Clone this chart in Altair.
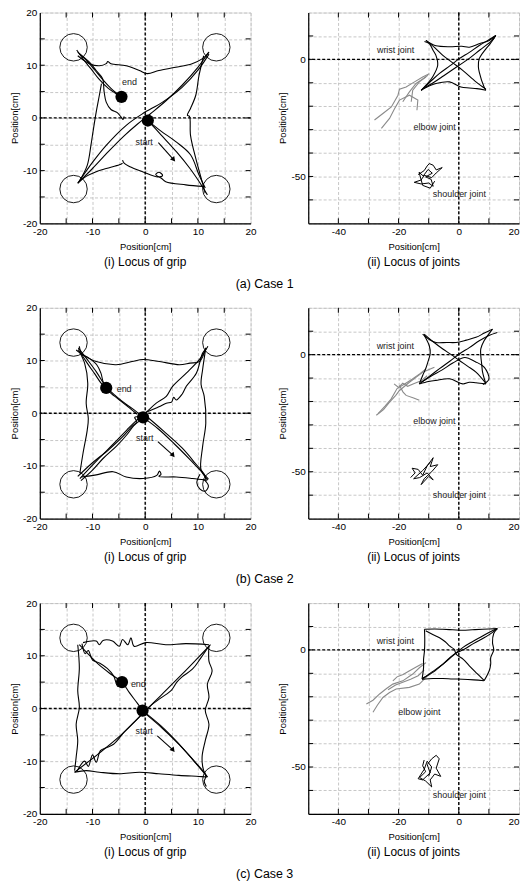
import altair as alt
import pandas as pd

# ---------------- axis / tick values ----------------
GRIP_TICKS = [-20, -15, -10, -5, 0, 5, 10, 15, 20]
GRIP_INNER = [-15, -10, -5, 0, 5, 10, 15]
JX_TICKS = [-50, -40, -30, -20, -10, 0, 10, 20]
JX_INNER = [-40, -30, -20, -10, 0, 10]
JY_TICKS = [20, 10, 0, -10, -20, -30, -40, -50, -60, -70]
JY_INNER = [10, 0, -10, -20, -30, -40, -50, -60]
ZERO = [0]

# ---------------- target circles ----------------
TARGET_X = [-13.6, 13.5, -13.6, 13.5]
TARGET_Y = [13.4, 13.4, -13.5, -13.5]

CASE_TITLES = ["(a) Case 1", "(b) Case 2", "(c) Case 3"]

# ---------------- grip trajectories (x, y) ----------------
GRIP1 = [
    [(0.5, -0.5), (3, -3.2), (6, -6.5), (8.5, -9.6), (10.5, -12.5), (11.8, -14.6)],
    [(11.4, -13.3), (10.2, -10.8), (8.6, -7), (5.8, -4.5), (3, -2.5), (0.5, -0.5)],
    [(11.1, 11.8), (10.2, 8), (9.6, 4.3), (8.6, 1.8), (8, 0.5), (8.4, 0.3), (8.6, -3.3),
     (9.6, -7.7), (10.8, -12.1), (11.4, -14.3)],
    [(11.1, -13), (7.7, -12.7), (3.9, -12.1), (3.0, -11.4), (2.0, -10.8), (2.6, -10.3),
     (3.3, -10.9), (2.4, -11.2), (-0.5, -10.2), (-3, -9.2), (-4, -8.6), (-4.3, -8)],
    [(-4.3, -8.6), (-4.9, -8.9), (-7.4, -9.6), (-9.3, -10.2), (-11.2, -11.1), (-12.5, -12.1)],
    [(-12.5, 12.2), (-10.5, 10.5), (-9.3, 9), (-8.1, 7.5), (-7.8, 5), (-7.4, 3), (-6.5, 1.6),
     (-5.3, 1.0), (-4.6, 0.2), (-4.2, -0.3), (-4.0, 0.3)],
    [(-12.6, -12.2), (-11, -9), (-10.3, -5.2), (-9.9, -2.6), (-9.3, 1.1), (-8.7, 4.3), (-8.3, 6.5)],
    [(-12.8, 11.8), (-10.6, 10.3), (-8.7, 9.9), (-7.4, 10.3), (-7.1, 10.7), (-6.5, 10.3),
     (-3.6, 9.9), (-1.1, 9), (0.4, 8.4), (2.6, 9), (5.8, 9.6), (8.9, 10.3), (10.8, 11.2), (12.1, 12.5)],
    [(-12.8, -12.4), (-10, -9.6), (-7, -6.4), (-4, -3.4), (-1.5, -1.2), (1, 0.8), (4, 3.3),
     (7, 6.2), (10, 9.6), (12.1, 12.5)],
    [(-12.8, -12.4), (-9.9, -8.3), (-7.4, -5.2), (-3.6, -1.4), (-0.5, 0.8), (3.3, 3), (7, 5.8),
     (10.2, 9.3), (12.1, 12.1)],
    [(-12.8, 12.5), (-11, 10.8), (-9.5, 9), (-8, 7.2), (-6.5, 5.6), (-4.8, 4.2)],
    [(-13, 12.9), (-11.8, 11.2), (-10.2, 9.2), (-8.8, 7.4), (-7, 5.6), (-5.5, 4.6), (-4.5, 4.1)],
]

GRIP2 = [
    [(-12.7, 12.4), (-11, 10.2), (-9.3, 7.9), (-7.4, 5.0), (-5.5, 3.2), (-3.5, 1.6), (-1.8, 0.4), (-0.4, -0.8)],
    [(-13.1, 12.0), (-12, 11.2), (-10.6, 10.4), (-9.2, 9.2), (-8.4, 7.6), (-8.0, 6.0), (-7.6, 5.2)],
    [(-12.5, 12.7), (-12.2, 11.5), (-11, 9.5), (-9.6, 7.5), (-8.3, 5.6), (-7.0, 4.2), (-5.0, 2.6),
     (-3, 1.0), (-1.5, -0.2)],
    [(-0.4, -0.8), (2.5, -3.0), (5.5, -5.8), (8.5, -8.8), (10.6, -11.0), (12.0, -12.5)],
    [(-0.1, -0.3), (3.5, -3.4), (7.0, -6.6), (9.5, -9.5), (11.2, -11.6), (11.6, -12.9)],
    [(10.4, -11.6), (9.8, -13.2), (10.4, -14.4), (11.4, -14.8), (12.0, -13.8), (11.2, -12.6)],
    [(-12.4, -12.4), (-9.0, -8.8), (-6, -5.8), (-3.5, -3.2), (-1.8, -1.5), (0, 0), (2.1, 1.9),
     (4, 3.2), (5.2, 5.1), (7.8, 7.6), (10.3, 10.2), (11.9, 12.7)],
    [(-12.8, -12.0), (-10, -9.4), (-7, -7), (-4.4, -4.6), (-2.6, -2.6), (-1.6, -1.6), (-2.0, -0.8),
     (-1.2, -0.6), (0.5, 0.3), (2.6, 1.2), (4, 1.9), (5.0, 2.1), (5.4, 3.0), (5.9, 2.5), (7.0, 3.6),
     (7.8, 5.1), (9.7, 7.6), (10.9, 11.4), (11.6, 12.3)],
    [(-12.2, -12.8), (-10, -10.8), (-8, -8.6), (-5.4, -6.2), (-3.4, -4.0), (-2.2, -2.4), (-1.0, -1.4)],
    [(-12.4, 11.4), (-9.3, 9.8), (-5.5, 9.2), (-2.5, 9.8), (-0.4, 10.2), (2.7, 9.8), (6.5, 9.2),
     (8.5, 9.5), (10.3, 9.8), (11.5, 12.4)],
    [(-12.7, 12.1), (-11.5, 9.5), (-10.9, 5.7), (-11.2, 1.9), (-10.8, -1.0), (-11.0, -3.2),
     (-11.8, -7.6), (-12.4, -11.4)],
    [(11.5, 12.4), (10.9, 8.3), (10.6, 5.5), (11.2, 3.2), (11.5, -1.9), (10.9, -6.3), (10.6, -10.8), (11.9, -12.7)],
    [(-12.1, -12.1), (-9.3, -11.7), (-6.1, -11.1), (-3.6, -12.1), (-0.4, -12.4), (2.2, -11.8),
     (2.7, -11.0), (3.0, -11.6), (2.6, -12.0), (5.9, -12.1), (9, -12.4), (11.5, -12.7)],
]

GRIP3 = [
    [(-11.8, 12.5), (-9.3, 12.8), (-8.7, 12.1), (-8.0, 12.9), (-6.2, 12.8), (-4.9, 11.8), (-4.3, 13.1),
     (-3.3, 12.1), (-2.7, 13.4), (-2.1, 11.8), (0.1, 12.5), (3.9, 12.1), (7.7, 12.3), (12.1, 12.1)],
    [(-12.8, 12.1), (-12.5, 7.7), (-12.8, 3.3), (-12.5, 0.2), (-13.1, -3), (-12.8, -6.1), (-13.1, -9.2), (-13.4, -11.8)],
    [(-13.4, -12.1), (-11.2, -11.8), (-8.7, -12.1), (-4.9, -12.4), (-1.1, -12.1), (2.6, -12.4),
     (6.4, -12.7), (10.2, -12.9), (11.8, -13.0)],
    [(12.1, 11.8), (12.1, 9), (12.7, 7.1), (11.8, 4.6), (12.1, 2.1), (11.4, -0.4), (12.1, -3),
     (11.4, -6.1), (10.8, -9.2), (11.1, -11.8), (11.8, -13)],
    [(-12.5, 12.1), (-9, 8.5), (-6.5, 6.5), (-4.4, 5.0), (-3, 3), (-1.5, 1), (-0.5, -0.4)],
    [(-12.0, 12.3), (-11.4, 10.4), (-10.8, 11.0), (-10.0, 9.2), (-8.6, 8.6), (-7.2, 7.6), (-6.0, 6.2),
     (-5.2, 4.2), (-4.6, 4.6)],
    [(-0.5, -0.4), (3, -3.3), (6, -6.3), (9, -9.7), (11.8, -13)],
    [(-0.2, -0.8), (3.3, -3.8), (6.5, -6.9), (9.5, -10.2), (11.5, -12.8), (11.2, -13.8), (11.6, -14.8)],
    [(-13.4, -12.1), (-9, -8.7), (-5, -5.4), (-1, -1.5), (3, 2.5), (7, 6.5), (10, 9.6), (12.4, 12.1)],
    [(-13.0, -12.0), (-11.5, -10.0), (-10.8, -11.0), (-10.0, -8.8), (-9.3, -10.2), (-8.5, -8.0),
     (-7.5, -7.5), (-6.0, -6.8), (-4.0, -4.5), (-2.0, -2.5), (1, 0.5), (3, 2), (5, 3.5), (6, 5.0),
     (7, 6), (9, 7.5), (10.5, 9.5), (12.2, 12.0)],
]

# start / end dots, label positions, arrows  (per case)
START_PTS = [(0.5, -0.5), (-0.4, -0.8), (-0.5, -0.4)]
END_PTS = [(-4.5, 4.0), (-7.4, 4.8), (-4.4, 5.0)]
END_LABELS = [(-3.0, 6.8), (-4.0, 4.6), (-1.3, 4.7)]
START_LABELS = [(-0.2, -4.5), (-0.1, -4.8), (-0.2, -4.2)]
ARROWS = [[(2.5, -4.7), (5.3, -7.8)], [(2.4, -5.4), (5.2, -7.9)], [(2.3, -5.2), (5.2, -7.8)]]

# ---------------- joint trajectories ----------------
WRIST1 = [
    [(-10.9, 8.1), (-9.6, 7.0), (-7.6, 5.8), (-3.1, 5.4), (1.0, 5.6), (3.5, 5.2), (7.0, 6.8), (10.1, 8.1), (12.3, 10.2)],
    [(-11.4, 7.6), (-9.8, 6.7), (-8.6, 4.0), (-7.6, 1.7), (-7.0, -2.5), (-8.7, -7.5), (-10.5, -10.5), (-12.5, -13.2)],
    [(-12.5, -13.2), (-9.5, -11.2), (-7.6, -10.3), (-3.1, -9.6), (0.7, -11.8), (3.5, -12.2), (6, -12.5), (9, -13.2)],
    [(12.3, 10.2), (10.5, 6.8), (9, 4.5), (6.8, 0.3), (6.5, -3), (6.8, -5.4), (8.4, -11.8), (9, -13.2)],
    [(-10.9, 8.1), (-8, 5), (-5.3, 1.7), (-2, -1.5), (1.3, -4.7), (5.7, -9.6), (9, -12.7)],
    [(-12.5, -13.2), (-9.5, -9.6), (-6.5, -6.1), (-3, -2.8), (0.2, 0.3), (3.5, 3), (6.8, 5.9), (9.5, 8), (12.3, 10.2)],
    [(-12.0, -12.6), (-8.5, -10), (-5, -7), (-1, -3.5), (3, 0), (7, 4), (10.5, 7.5), (11.8, 9.2)],
]
ELBOW1 = [
    [(-28, -25.9), (-25.2, -23.1), (-22.4, -20.3), (-20.2, -15.3), (-19.7, -12.7), (-17.5, -11.8),
     (-14.7, -9.6), (-12, -7.5), (-9.8, -6.1)],
    [(-25.7, -29.5), (-23, -25.2), (-21.3, -21), (-19.7, -17.4), (-16.4, -15.3), (-13.6, -17.4), (-13.9, -21.7)],
    [(-18.6, -18.1), (-16.4, -13.9), (-14.2, -10.3), (-10.9, -7.5)],
    [(-15.8, -18.1), (-15.3, -13.2), (-13.1, -9.6), (-10.3, -6.8)],
]
SHOULDER1 = [
    [(-13.5, -49.2), (-11.5, -47.5), (-10.5, -45.5), (-9.8, -44.5), (-8.5, -45.2), (-7.5, -47.2),
     (-5.5, -46.2), (-7.5, -48.5), (-9.0, -50.5), (-11.5, -49.5), (-12.5, -51.5), (-14.8, -52.5),
     (-12.5, -53.2), (-10.0, -52.8), (-8.5, -54.2), (-9.2, -51.2), (-11.0, -50.2), (-8.8, -48.6),
     (-10.2, -47.0), (-11.8, -49.8), (-13.2, -48.2), (-12.0, -53.8), (-9.5, -55.0), (-8.0, -52.0)],
]

WRIST2 = [
    [(-12, 8.8), (-9.8, 6.5), (-7.6, 5.2), (-4, 5.2), (-0.9, 5.2), (2.5, 6.2), (5.7, 7.4), (8.5, 9.2), (11.2, 10.9)],
    [(-11.5, 8.3), (-9.8, 3.8), (-9.5, 0.5), (-10.3, -3.3), (-11, -6), (-12, -8.9), (-13.1, -12.5)],
    [(-13.1, -12.5), (-10, -11.5), (-7.6, -11), (-3.1, -10.3), (1.3, -12.5), (3.5, -11.8), (5.7, -12), (9, -12.5)],
    [(11.2, 10.9), (9.5, 8), (8.4, 5.9), (7.3, 2.5), (7.3, -0.4), (7.6, -4), (7.9, -7.5), (9, -12.5)],
    [(-11.5, 8.8), (-8.5, 5.5), (-5.3, 2.4), (-2.5, 0), (0.2, -2.5), (3, -5), (5.7, -7.5), (9, -12.3)],
    [(-13.1, -12.5), (-10, -9.5), (-6.5, -6.1), (-3, -2.8), (0.2, 0.3), (3.5, 3), (6.8, 5.9), (10, 8.2), (12.8, 9.5)],
    [(-12.5, -11.8), (-9, -9), (-5.5, -6.5), (-2, -3.6), (2, -1.2), (5.5, -3), (8.5, -5.4), (10, -10.5), (8, -12.8)],
]
ELBOW2 = [
    [(-27.4, -25.9), (-25, -23.5), (-23, -20.3), (-21, -17.5), (-19.7, -15.3), (-16.4, -11.8),
     (-14, -9.5), (-12, -7.5), (-8.1, -5.4)],
    [(-26.8, -25.2), (-24.5, -22), (-22.5, -19), (-20.5, -14.5), (-18, -12.5), (-15.5, -10.5), (-13, -8.2), (-10.9, -6.1)],
    [(-19.7, -13.2), (-18.5, -16), (-17.5, -17.4), (-15, -18.5), (-13.1, -19.5)],
    [(-21.5, -12.5), (-20, -14), (-18.6, -12.2), (-17, -13.5), (-15, -12.4), (-12.5, -11.2), (-10.5, -9)],
]
SHOULDER2 = [
    [(-16.0, -52.5), (-14.5, -50.5), (-15.5, -48.5), (-13.5, -49.0), (-12.0, -51.5), (-10.5, -47.5),
     (-8.5, -44.0), (-9.5, -47.8), (-7.0, -47.0), (-9.0, -50.0), (-11.5, -53.0), (-12.5, -55.5),
     (-10.0, -52.0), (-8.5, -53.5), (-10.5, -50.5), (-13.0, -52.5), (-15.0, -53.0), (-12.0, -49.5), (-9.5, -46.0)],
]

WRIST3 = [
    [(-11.4, 8.8), (-8, 8.9), (-5.3, 8.8), (-2, 8.6), (1.3, 8.4), (4.5, 8.6), (7.9, 8.8), (12.8, 9.1)],
    [(-11.4, 8.8), (-11.3, 4.5), (-11.4, -0.4), (-11.7, -4), (-11.7, -7.5), (-12.2, -12.5)],
    [(-12.2, -12.5), (-8.5, -12.2), (-5.3, -12.2), (-2, -12.4), (1.3, -12.5), (5, -12.8), (8.4, -13.2)],
    [(12.8, 9.1), (11.6, 7), (11.2, 3.1), (11.6, 0), (10.6, -3.3), (10.6, -6), (10.1, -8.9), (8.4, -13.2)],
    [(-11, 8.2), (-8.5, 6.5), (-6.4, 5.2), (-4.5, 3.5), (-3.1, 1.7), (-1.5, 0.2), (-0.9, -1.8),
     (1.5, -4), (3.5, -6.8), (6, -10), (8.4, -13.0)],
    [(-12.2, -12.5), (-9, -9.5), (-5.3, -6.1), (-2, -2.5), (1.3, 1), (4.5, 3.5), (7.9, 5.9), (10.5, 7.8), (12.8, 9.1)],
    [(-12.0, -12.0), (-8.5, -9.5), (-4.8, -5.5), (-1.5, -1.8), (1.8, 0.3), (5, 2.8), (8.4, 5.2), (11.2, 7.5), (12.5, 9.0)],
]
ELBOW3 = [
    [(-30.7, -23.1), (-28.5, -21.5), (-26.3, -18.8), (-24, -16.5), (-21.9, -14.6), (-18.6, -13.2),
     (-15.3, -10.3), (-13, -7.5), (-10.9, -5.4)],
    [(-28.5, -26.6), (-27, -23.5), (-25.2, -20.3), (-23, -18.2), (-20.8, -16.7), (-16.4, -16), (-13.1, -14.6), (-9.8, -10.3)],
    [(-23.5, -17), (-21, -15), (-18.6, -13.8), (-16, -12.5), (-13.5, -11), (-11.5, -8.5)],
    [(-21.9, -13.2), (-20.5, -11.5), (-18.5, -10.5), (-16.5, -9), (-14, -7.2), (-12.0, -5.8)],
]
SHOULDER3 = [
    [(-11.5, -47.0), (-12.0, -49.5), (-11.0, -52.0), (-13.0, -54.5), (-11.0, -56.0), (-9.0, -58.5),
     (-9.5, -55.5), (-8.0, -53.0), (-6.0, -54.0), (-7.5, -50.5), (-6.5, -46.5), (-7.5, -45.0),
     (-9.0, -46.5), (-10.5, -49.0), (-9.5, -52.5), (-12.0, -55.5), (-13.5, -55.0), (-11.5, -51.0),
     (-10.5, -47.5), (-9.0, -50.0), (-10.0, -54.0)],
]

WRIST_LABELS = [(-21, 4.0), (-21.1, 3.8), (-21.1, 3.8)]
ELBOW_LABELS = [(-8, -29), (-8.1, -28.5), (-13.1, -26.6)]
SHOULDER_LABELS = [(0.2, -57.7), (0.2, -59.9), (0.2, -62)]

GRIPS = [GRIP1, GRIP2, GRIP3]
WRISTS = [WRIST1, WRIST2, WRIST3]
ELBOWS = [ELBOW1, ELBOW2, ELBOW3]
SHOULDERS = [SHOULDER1, SHOULDER2, SHOULDER3]

# ---------------- styling ----------------
FONT = "Liberation Sans"
W = 212
H = 212


def seg_df(segs, prefix=""):
    rows = []
    for si, seg in enumerate(segs):
        for oi, (x, y) in enumerate(seg):
            rows.append({"x": x, "y": y, "seg": f"{prefix}{si}", "o": oi})
    return pd.DataFrame(rows)


def make_axis(values, expr, orient, flush=False):
    kw = dict(values=values, labelExpr=expr, grid=True, gridColor="#b8b8b8", gridDash=[3, 2],
              gridWidth=0.8, ticks=False, domainColor="black", domainWidth=1.2,
              labelFont=FONT, labelFontSize=10, labelColor="black", labelFlush=flush,
              labelOverlap=False, title="Position[cm]", titleFont=FONT, titleFontSize=9.5,
              titleFontWeight="normal", titleColor="black")
    if orient == "x":
        kw.update(labelPadding=3, titlePadding=5)
    else:
        kw.update(labelPadding=3, titlePadding=3)
    return alt.Axis(**kw)


def panel(kind, ci):
    if kind == "grip":
        xdom, ydom = [-20, 20], [-20, 20]
        xvals, yvals = GRIP_TICKS, GRIP_TICKS
        xin, yin = GRIP_INNER, GRIP_INNER
        xexpr = "datum.value % 10 === 0 ? '' + datum.value : ''"
        yexpr = "datum.value % 10 === 0 ? '' + datum.value : ''"
        ttl = "(i) Locus of grip"
        xflush = False
    else:
        xdom, ydom = [-50, 20], [-70, 20]
        xvals, yvals = JX_TICKS, JY_TICKS
        xin, yin = JX_INNER, JY_INNER
        xexpr = "datum.value % 20 === 0 ? '' + datum.value : ''"
        yexpr = "datum.value % 50 === 0 ? '' + datum.value : ''"
        ttl = "(ii) Locus of joints"
        xflush = True

    xs = alt.Scale(domain=xdom, nice=False, zero=False)
    ys = alt.Scale(domain=ydom, nice=False, zero=False)
    xax = make_axis(xvals, xexpr, "x", xflush)
    yax = make_axis(yvals, yexpr, "y")

    def X(f):
        return alt.X(f, type="quantitative", scale=xs, axis=xax)

    def Y(f):
        return alt.Y(f, type="quantitative", scale=ys, axis=yax)

    zero_df = pd.DataFrame({"v": ZERO})
    layers = []
    layers.append(alt.Chart(zero_df).mark_rule(color="black", strokeWidth=1.4, strokeDash=[3, 2]).encode(x=X("v")))
    layers.append(alt.Chart(zero_df).mark_rule(color="black", strokeWidth=1.4, strokeDash=[3, 2]).encode(y=Y("v")))
    xt = pd.DataFrame({"t": xin})
    yt = pd.DataFrame({"t": yin})
    tk = dict(color="black", strokeWidth=1)
    layers.append(alt.Chart(xt).mark_rule(**tk).encode(x=X("t"), y=alt.value(H), y2=alt.value(H - 5)))
    layers.append(alt.Chart(xt).mark_rule(**tk).encode(x=X("t"), y=alt.value(0), y2=alt.value(5)))
    layers.append(alt.Chart(yt).mark_rule(**tk).encode(y=Y("t"), x=alt.value(0), x2=alt.value(5)))
    layers.append(alt.Chart(yt).mark_rule(**tk).encode(y=Y("t"), x=alt.value(W), x2=alt.value(W - 5)))

    txt = dict(font=FONT, fontSize=9, color="#222")
    if kind == "grip":
        tg = pd.DataFrame({"x": TARGET_X, "y": TARGET_Y})
        layers.append(alt.Chart(tg).mark_point(shape="circle", size=760, filled=False, color="black",
                                               strokeWidth=0.9, opacity=1).encode(x=X("x"), y=Y("y")))
        df = seg_df(GRIPS[ci])
        layers.append(alt.Chart(df).mark_line(color="black", strokeWidth=1.1, interpolate="catmull-rom").encode(
            x=X("x"), y=Y("y"), detail="seg:N", order="o:Q"))
        ar = ARROWS[ci]
        adf = pd.DataFrame({"x": [p[0] for p in ar], "y": [p[1] for p in ar], "o": [0, 1]})
        layers.append(alt.Chart(adf).mark_line(color="black", strokeWidth=1.1).encode(x=X("x"), y=Y("y"), order="o:Q"))
        hdf = pd.DataFrame({"x": [ar[1][0]], "y": [ar[1][1]]})
        layers.append(alt.Chart(hdf).mark_point(shape="triangle", size=30, filled=True, color="black",
                                                angle=140, opacity=1).encode(x=X("x"), y=Y("y")))
        dots = pd.DataFrame({"x": [START_PTS[ci][0], END_PTS[ci][0]], "y": [START_PTS[ci][1], END_PTS[ci][1]]})
        layers.append(alt.Chart(dots).mark_point(shape="circle", size=150, filled=True, color="black",
                                                 opacity=1).encode(x=X("x"), y=Y("y")))
        lab = pd.DataFrame({"x": [END_LABELS[ci][0], START_LABELS[ci][0]],
                            "y": [END_LABELS[ci][1], START_LABELS[ci][1]],
                            "t": ["end", "start"]})
        layers.append(alt.Chart(lab).mark_text(**txt).encode(x=X("x"), y=Y("y"), text="t:N"))
    else:
        wdf = seg_df(WRISTS[ci], "w")
        edf = seg_df(ELBOWS[ci], "e")
        sdf = seg_df(SHOULDERS[ci], "s")
        layers.append(alt.Chart(edf).mark_line(color="#8a8a8a", strokeWidth=1.1).encode(
            x=X("x"), y=Y("y"), detail="seg:N", order="o:Q"))
        layers.append(alt.Chart(wdf).mark_line(color="black", strokeWidth=1.1, interpolate="catmull-rom").encode(
            x=X("x"), y=Y("y"), detail="seg:N", order="o:Q"))
        layers.append(alt.Chart(sdf).mark_line(color="black", strokeWidth=1.0).encode(
            x=X("x"), y=Y("y"), detail="seg:N", order="o:Q"))
        lab = pd.DataFrame({"x": [WRIST_LABELS[ci][0], ELBOW_LABELS[ci][0], SHOULDER_LABELS[ci][0]],
                            "y": [WRIST_LABELS[ci][1], ELBOW_LABELS[ci][1], SHOULDER_LABELS[ci][1]],
                            "t": ["wrist joint", "elbow joint", "shoulder joint"]})
        layers.append(alt.Chart(lab).mark_text(**txt).encode(x=X("x"), y=Y("y"), text="t:N"))

    return alt.layer(*layers).properties(
        width=W, height=H,
        title=alt.TitleParams(ttl, orient="bottom", font=FONT, fontSize=12, fontWeight="normal",
                              color="black", offset=6),
    )


rows = []
for ci in range(3):
    row = alt.hconcat(panel("grip", ci), panel("joint", ci), spacing=58, bounds="flush").properties(
        title=alt.TitleParams(CASE_TITLES[ci], orient="bottom", font=FONT, fontSize=12.5,
                              fontWeight="normal", color="black", anchor="middle", offset=10)
    )
    rows.append(row)

chart = alt.vconcat(*rows, spacing=11).properties(
    padding={"left": 1, "top": -4, "right": 0, "bottom": 0}
).configure_view(stroke="black", strokeWidth=1.2).configure(background="white")

chart.save("out.html", embed_options={"renderer": "svg", "actions": False})
